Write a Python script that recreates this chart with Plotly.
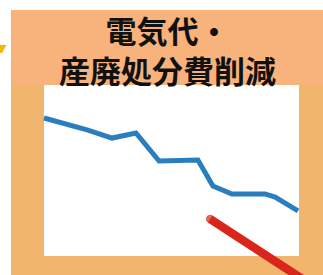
import plotly.graph_objects as go

# ---- data (x = time position 0..100, y = cost index 0..100)
cost_x = [0, 17.3, 26.8, 36.2, 45.3, 60.6, 66.5, 74.0, 87.0, 91.0, 100.0]
cost_y = [80.6, 73.5, 68.8, 71.8, 55.3, 55.9, 40.6, 35.9, 35.9, 34.1, 25.9]
trend_x = [65.4, 112.6]
trend_y = [21.2, -24.7]
title_lines = ["電気代・", "産廃処分費削減"]

W, H = 323, 275

def px(x):
    return x / W

def py(y):
    return 1 - y / H

fig = go.Figure()
fig.add_trace(go.Scatter(x=cost_x, y=cost_y, mode="lines",
                         line=dict(color="#2A7EBE", width=5), hoverinfo="skip"))
fig.add_trace(go.Scatter(x=trend_x, y=trend_y, mode="lines+markers",
                         line=dict(color="#DA251D", width=8.5),
                         marker=dict(color="#DA251D", size=[8.5, 0], line=dict(width=0)),
                         hoverinfo="skip"))

shapes = [
    # lower orange panel
    dict(type="rect", xref="paper", yref="paper", x0=px(11), x1=px(330), y0=py(282), y1=py(84),
         fillcolor="#F2B56E", line=dict(width=0), layer="below"),
    # title band
    dict(type="rect", xref="paper", yref="paper", x0=px(11), x1=px(330), y0=py(85), y1=py(10),
         fillcolor="#F8B27C", line=dict(width=0), layer="below"),
    # white plot area
    dict(type="rect", xref="paper", yref="paper", x0=px(44), x1=px(299), y0=py(256), y1=py(85),
         fillcolor="#FFFFFF", line=dict(width=0), layer="below"),
    # yellow arrow tip at left edge
    dict(type="path", xref="paper", yref="paper",
         path=f"M {px(-1)},{py(45)} L {px(6.5)},{py(45)} L {px(2)},{py(53)} L {px(-1)},{py(53)} Z",
         fillcolor="#F7B500", line=dict(width=0), layer="below"),
]

annotations = [
    dict(text="<b>" + "<br>".join(title_lines) + "</b>", xref="paper", yref="paper",
         x=px(167), y=py(49.5), xanchor="center", yanchor="middle", align="center",
         showarrow=False,
         font=dict(family="Noto Sans CJK JP", size=31, color="#111111")),
]

fig.update_layout(
    width=W, height=H,
    margin=dict(l=0, r=0, t=0, b=0),
    paper_bgcolor="#FFFFFF", plot_bgcolor="rgba(0,0,0,0)",
    showlegend=False,
    xaxis=dict(range=[(0 - 44) / 2.54, (323 - 44) / 2.54], visible=False, fixedrange=True),
    yaxis=dict(range=[(255 - 275) / 1.7, 255 / 1.7], visible=False, fixedrange=True),
    shapes=shapes, annotations=annotations,
)

fig.write_html("out.html", config={"displayModeBar": False},
               post_script="document.body.style.margin='0';document.body.style.overflow='hidden';")
